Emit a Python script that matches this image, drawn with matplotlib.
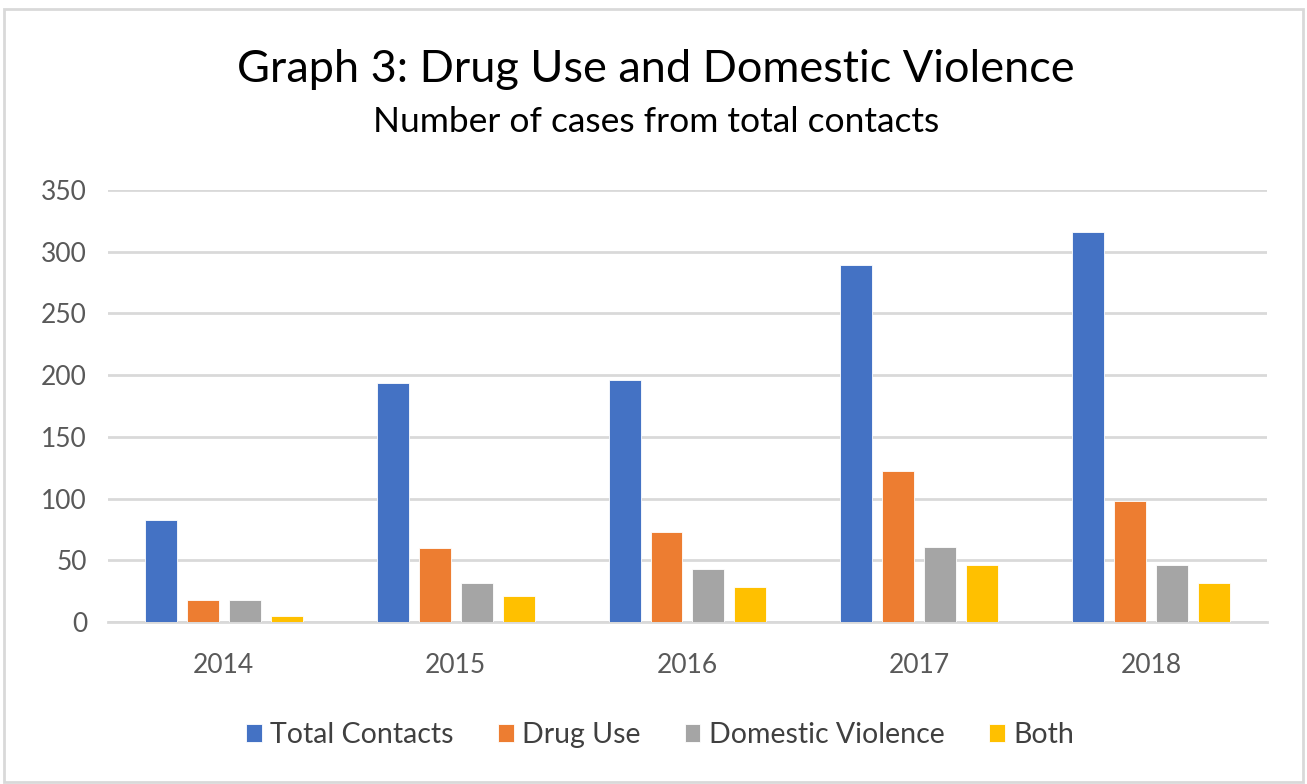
import numpy as np
import matplotlib.pyplot as plt
from matplotlib.patches import Rectangle

years = ["2014", "2015", "2016", "2017", "2018"]
series_names = ["Total Contacts", "Drug Use", "Domestic Violence", "Both"]
total_contacts = [83, 194, 196, 289, 316]
drug_use = [18, 60, 73, 122, 98]
domestic_violence = [18, 32, 43, 61, 46]
both = [5, 21, 28, 46, 32]
colors = ["#4472C4", "#ED7D31", "#A5A5A5", "#FFC000"]

plt.rcParams['font.family'] = ['Lato', 'DejaVu Sans']

fig = plt.figure(figsize=(13.07, 7.84), dpi=100)
ax = fig.add_axes([0.0826, 0.2066, 0.8868, 0.5511])

x = np.arange(len(years))
width = 0.138
pitch = 0.181
data = [total_contacts, drug_use, domestic_violence, both]
for i, (vals, name, c) in enumerate(zip(data, series_names, colors)):
    ax.bar(x + (i - 1.5) * pitch, vals, width, color=c, label=name,
           edgecolor='white', linewidth=0.6, zorder=3)

ax.set_xlim(-0.5, len(years) - 0.5)
ax.set_ylim(0, 350)
ax.set_yticks(range(0, 351, 50))
ax.set_xticks(x)
ax.set_xticklabels(years)
ax.grid(axis='y', color='#D9D9D9', linewidth=2, zorder=0)
for s in ['top', 'right', 'left']:
    ax.spines[s].set_visible(False)
ax.spines['bottom'].set_color('#D9D9D9')
ax.spines['bottom'].set_linewidth(2)
ax.tick_params(axis='both', length=0, labelsize=19, labelcolor='#595959')
ax.tick_params(axis='x', pad=22)
ax.tick_params(axis='y', pad=15)

fig.text(0.502, 0.911, "Graph 3: Drug Use and Domestic Violence", ha='center', va='center',
         fontsize=32.5, color='#000000')
fig.text(0.502, 0.844, "Number of cases from total contacts", ha='center', va='center',
         fontsize=25.5, color='#000000')

fig.legend(loc='center', bbox_to_anchor=(0.505, 0.0625), ncol=4, frameon=False,
           fontsize=20.5, handlelength=0.55, handleheight=0.55, handletextpad=0.3,
           columnspacing=1.55, labelcolor='#404040')

fig.patches.append(Rectangle((0.003, 0.003), 0.994, 0.985, transform=fig.transFigure,
                             fill=False, edgecolor='#D9D9D9', linewidth=2))

fig.savefig("out.png", dpi=100, facecolor='white')
